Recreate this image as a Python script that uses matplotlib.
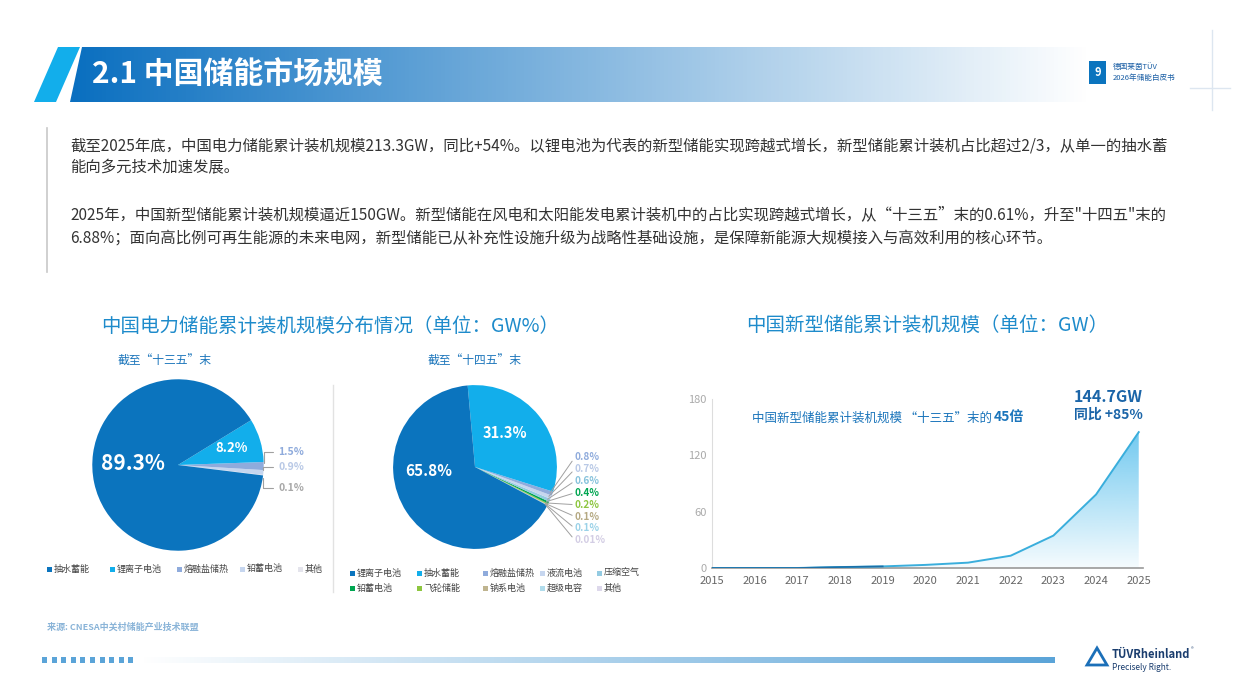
import numpy as np
import matplotlib
matplotlib.use("Agg")
import matplotlib.pyplot as plt
from matplotlib.patches import Polygon, Rectangle

plt.rcParams['font.family'] = ['Noto Sans CJK SC', 'DejaVu Sans']

# ---- data ----
pie1_labels = ["抽水蓄能", "锂离子电池", "熔融盐储热", "铅蓄电池", "其他"]
pie1_values = [89.3, 8.2, 1.5, 0.9, 0.1]
pie1_colors = ["#0B74BE", "#12AEEB", "#8FABDC", "#C6D6EF", "#E4E4EC"]
pie1_txtcol = ["white", "white", "#8FABDC", "#B9C9E6", "#A8A8A8"]

pie2_labels = ["锂离子电池", "抽水蓄能", "熔融盐储热", "液流电池", "压缩空气",
               "铅蓄电池", "飞轮储能", "钠系电池", "超级电容", "其他"]
pie2_values = [65.8, 31.3, 0.8, 0.7, 0.6, 0.4, 0.2, 0.1, 0.1, 0.01]
pie2_colors = ["#0B74BE", "#12AEEB", "#8FABDC", "#C6D6EF", "#94CBE2",
               "#00A651", "#8DC63F", "#BFB48F", "#B0DCEC", "#DDD8EB"]
pie2_txtcol = ["white", "white", "#8FABDC", "#B9C9E6", "#86C2DC",
               "#00A651", "#8DC63F", "#B5A983", "#9BD2E8", "#D3CDE4"]
pie2_fmt = ["65.8%", "31.3%", "0.8%", "0.7%", "0.6%", "0.4%", "0.2%", "0.1%", "0.1%", "0.01%"]

years = [2015, 2016, 2017, 2018, 2019, 2020, 2021, 2022, 2023, 2024, 2025]
capacity = [0.0, 0.0, 0.0, 1.0, 1.7, 3.3, 5.7, 13.1, 34.5, 78.3, 144.7]

W, H = 1240, 697
fig = plt.figure(figsize=(W / 100, H / 100), dpi=100)
bg = fig.add_axes([0, 0, 1, 1])
bg.set_xlim(0, W)
bg.set_ylim(H, 0)
bg.axis("off")


def px_axes(x0, y0, x1, y1):
    return fig.add_axes([x0 / W, 1 - y1 / H, (x1 - x0) / W, (y1 - y0) / H])


def hgrad(x0, x1, y0, y1, c0, c1, clip=None, a0=1.0, a1=1.0):
    c0 = np.array(matplotlib.colors.to_rgb(c0))
    c1 = np.array(matplotlib.colors.to_rgb(c1))
    t = np.linspace(0, 1, 256)
    img = np.zeros((1, 256, 4))
    img[0, :, :3] = c0 + (c1 - c0) * t[:, None]
    img[0, :, 3] = a0 + (a1 - a0) * t
    im = bg.imshow(img, extent=[x0, x1, y1, y0], aspect="auto", zorder=1)
    if clip is not None:
        im.set_clip_path(clip)


# ---- header ----
hpoly = Polygon([[82, 47], [1090, 47], [1090, 102], [70, 102]], closed=True,
                facecolor="none", edgecolor="none")
bg.add_patch(hpoly)
hgrad(70, 1090, 47, 102, "#0A6FC0", "#FFFFFF", clip=hpoly)
bg.add_patch(Polygon([[58, 47], [80, 47], [56, 102], [34, 102]], closed=True,
                     facecolor="#12AEEB", edgecolor="none", zorder=2))
bg.set_xlim(0, W)
bg.set_ylim(H, 0)
bg.text(92, 74, "2.1 中国储能市场规模", color="white", fontsize=21.5, fontweight="bold",
        va="center", zorder=3)
bg.add_patch(Rectangle((1089, 61), 17, 23, facecolor="#0B74BE", zorder=3))
bg.text(1097.5, 73, "9", color="white", fontsize=8, fontweight="bold", ha="center", va="center", zorder=4)
bg.text(1113, 67, "德国莱茵TÜV", color="#1B5FA5", fontsize=5.5, va="center")
bg.text(1113, 78, "2026年储能白皮书", color="#1B5FA5", fontsize=5.5, va="center")
bg.plot([1212, 1212], [30, 110], color="#DDE6F0", lw=1)
bg.plot([1190, 1230], [88, 88], color="#DDE6F0", lw=1)

# ---- body text ----
bg.plot([47, 47], [128, 272], color="#C8C8C8", lw=1.2)
body = [
    (146, "截至2025年底，中国电力储能累计装机规模213.3GW，同比+54%。以锂电池为代表的新型储能实现跨越式增长，新型储能累计装机占比超过2/3，从单一的抽水蓄"),
    (168, "能向多元技术加速发展。"),
    (215, "2025年，中国新型储能累计装机规模逼近150GW。新型储能在风电和太阳能发电累计装机中的占比实现跨越式增长，从“十三五”末的0.61%，升至\"十四五\"末的"),
    (238, "6.88%；面向高比例可再生能源的未来电网，新型储能已从补充性设施升级为战略性基础设施，是保障新能源大规模接入与高效利用的核心环节。"),
]
for y, s in body:
    bg.text(70, y, s, color="#333333", fontsize=11.1, va="center")

# ---- chart titles ----
bg.text(330, 326, "中国电力储能累计装机规模分布情况（单位：GW%）", color="#1E8BCB",
        fontsize=14, ha="center", va="center")
bg.text(927, 325, "中国新型储能累计装机规模（单位：GW）", color="#1E8BCB",
        fontsize=14, ha="center", va="center")
bg.text(165, 361, "截至“十三五”末", color="#1B75BB", fontsize=8.5, ha="center", va="center")
bg.text(475, 361, "截至“十四五”末", color="#1B75BB", fontsize=8.5, ha="center", va="center")
bg.plot([333, 333], [385, 592], color="#E2E2E2", lw=1)


def draw_pie(ax, values, colors, start):
    vals = values[::-1]
    cols = colors[::-1]
    wedges, _ = ax.pie(vals, colors=cols, startangle=start, counterclock=True,
                       wedgeprops=dict(linewidth=0))
    ax.set_xlim(-1.05, 1.05)
    ax.set_ylim(-1.05, 1.05)
    ax.set_aspect("equal")
    mids = [np.deg2rad((w.theta1 + w.theta2) / 2) for w in wedges][::-1]
    return mids


# ---- pie 1 ----
ax1 = px_axes(88, 375, 268, 555)
m1 = draw_pie(ax1, pie1_values, pie1_colors, -7)
ax1.text(-0.52, 0.02, "89.3%", color="white", fontsize=15, fontweight="bold", ha="center", va="center")
ax1.text(0.62, 0.20, "8.2%", color="white", fontsize=9.5, fontweight="bold", ha="center", va="center")
lab1_y = [0.15, -0.02, -0.27]
for i, ly in zip(range(2, 5), lab1_y):
    a = m1[i]
    ax1.annotate(f"{pie1_values[i]}%", xy=(np.cos(a), np.sin(a)), xytext=(1.17, ly),
                 color=pie1_txtcol[i], fontsize=7.5, fontweight="bold", va="center",
                 arrowprops=dict(arrowstyle="-", color="#A0A0A0", lw=0.8,
                                 connectionstyle="angle,angleA=0,angleB=90,rad=0"),
                 annotation_clip=False)

# ---- pie 2 ----
ax2 = px_axes(389, 381, 561, 553)
m2 = draw_pie(ax2, pie2_values, pie2_colors, -28)
ax2.text(-0.57, -0.05, "65.8%", color="white", fontsize=11, fontweight="bold", ha="center", va="center")
ax2.text(0.37, 0.41, "31.3%", color="white", fontsize=10.5, fontweight="bold", ha="center", va="center")
for k, i in enumerate(range(2, 10)):
    a = m2[i]
    ly = 0.12 - k * 0.145
    ax2.annotate(pie2_fmt[i], xy=(0.97 * np.cos(a), 0.97 * np.sin(a)), xytext=(1.22, ly),
                 color=pie2_txtcol[i], fontsize=7.2, fontweight="bold", va="center",
                 arrowprops=dict(arrowstyle="-", color="#A0A0A0", lw=0.7,
                                 shrinkA=0, shrinkB=0, relpos=(0, 0.5)),
                 annotation_clip=False)

# ---- legends ----
def legend_items(labels, colors, xs, ys):
    for lab, col, x, y in zip(labels, colors, xs, ys):
        bg.add_patch(Rectangle((x, y - 2.5), 5, 5, facecolor=col, edgecolor="none"))
        bg.text(x + 7, y, lab, fontsize=6.5, color="#444444", va="center")

legend_items(pie1_labels, pie1_colors, [47, 110, 177, 240, 298], [569] * 5)
legend_items(pie2_labels, pie2_colors, [350, 417, 483, 540, 597] * 2, [573] * 5 + [588] * 5)

# ---- line chart ----
ax3 = px_axes(712, 399, 1143, 568)
ax3.set_xlim(2015, 2025.1)
ax3.set_ylim(0, 180)
x = np.array(years, dtype=float)
y = np.array(capacity)
grad = np.zeros((256, 1, 4))
grad[:, 0, :3] = matplotlib.colors.to_rgb("#3DB5EA")
grad[:, 0, 3] = np.linspace(0.05, 0.75, 256)
im = ax3.imshow(grad, extent=[2015, 2025.1, 0, 150], origin="lower", aspect="auto", zorder=1)
poly = ax3.fill_between(x, y, 0, facecolor="none", edgecolor="none")
im.set_clip_path(poly.get_paths()[0], transform=ax3.transData)
ax3.plot(x, y, color="#3AAEDC", lw=1.4, zorder=3)
ax3.plot(x[:5], y[:5], color="#1B6FA8", lw=1.2, zorder=3)
ax3.set_xticks(years)
ax3.set_yticks([0, 60, 120, 180])
ax3.tick_params(length=0, labelsize=8, colors="#666666", pad=6)
ax3.tick_params(axis="y", colors="#AAAAAA", pad=4)
for s in ["top", "right"]:
    ax3.spines[s].set_visible(False)
ax3.spines["left"].set_color("#DDDDDD")
ax3.spines["bottom"].set_color("#999999")
ax3.spines["bottom"].set_linewidth(1.2)
ax3.patch.set_alpha(0)

bg.text(752, 418, "中国新型储能累计装机规模 “十三五”末的", color="#1B75BB",
        fontsize=9, va="center")
bg.text(994, 417, "45倍", color="#1B75BB", fontsize=10, fontweight="bold", va="center")
bg.text(1143, 397, "144.7GW", color="#1B65A8", fontsize=11.5, fontweight="bold", ha="right", va="center")
bg.text(1143, 415, "同比 +85%", color="#1B65A8", fontsize=10, fontweight="bold", ha="right", va="center")

# ---- footer ----
bg.text(47, 627, "来源: CNESA中关村储能产业技术联盟", color="#8AB4D8", fontsize=6.5,
        fontweight="bold", va="center")
for i in range(10):
    bg.add_patch(Rectangle((42 + i * 9.6, 657), 5, 6, facecolor="#5BA4D8", edgecolor="none"))
hgrad(140, 1055, 657, 663, "#FFFFFF", "#5BA4D8")
bg.set_xlim(0, W)
bg.set_ylim(H, 0)
bg.add_patch(Polygon([[1097, 648], [1087, 665], [1107, 665]], closed=True,
                     facecolor="none", edgecolor="#1B6FB8", lw=2))
bg.text(1112, 655, "TÜVRheinland", color="#1A3D6E", fontsize=8, fontweight="bold", va="center")
bg.text(1191, 650, "®", color="#1A3D6E", fontsize=4, va="center")
bg.text(1112, 668, "Precisely Right.", color="#1A3D6E", fontsize=6, va="center")

fig.savefig("out.png", dpi=100)
